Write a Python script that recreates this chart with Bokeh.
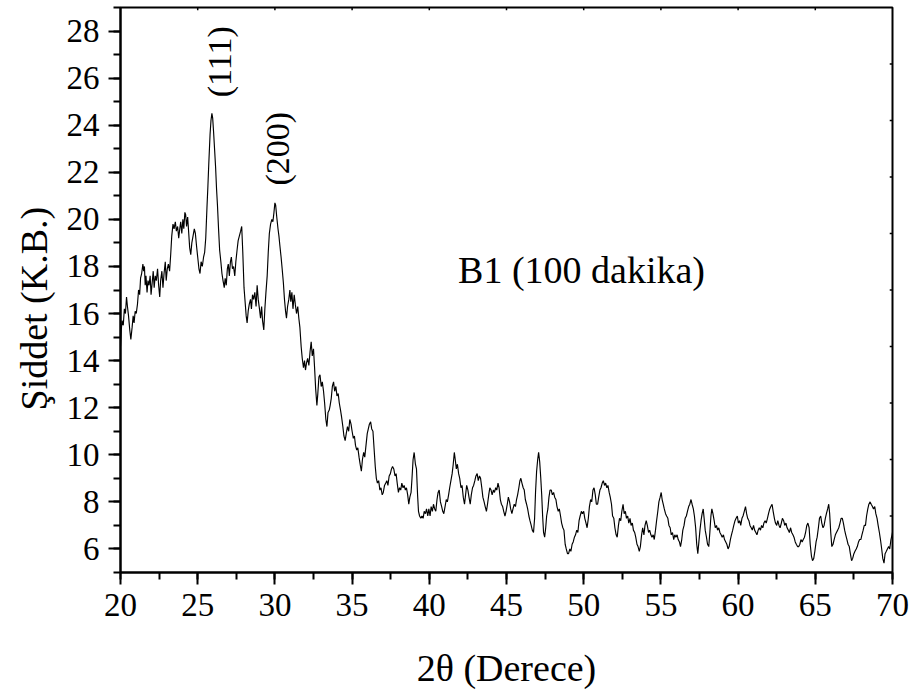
from math import pi

from bokeh.plotting import figure
from bokeh.models import (Label, Title, Range1d, SingleIntervalTicker,
                          ColumnDataSource)
from bokeh.embed import file_html
from bokeh.resources import INLINE

# XRD scan of sample B1 (100 min): 2-theta (degrees) vs intensity (a.u.)
two_theta = [
    20.00, 20.05, 20.10, 20.18, 20.25, 20.32, 20.39, 20.45, 20.52, 20.60,
    20.67, 20.75, 20.82, 20.88, 20.95, 21.02, 21.10, 21.17, 21.24, 21.30,
    21.37, 21.45, 21.50, 21.55, 21.60, 21.65, 21.72, 21.78, 21.85, 21.92,
    21.98, 22.05, 22.12, 22.18, 22.25, 22.32, 22.40, 22.47, 22.54, 22.60,
    22.68, 22.75, 22.82, 22.90, 22.96, 23.03, 23.10, 23.18, 23.25, 23.32,
    23.40, 23.47, 23.55, 23.62, 23.70, 23.77, 23.84, 23.90, 23.97, 24.04,
    24.10, 24.17, 24.22, 24.28, 24.35, 24.42, 24.48, 24.55, 24.62, 24.70,
    24.78, 24.85, 24.92, 25.00, 25.08, 25.15, 25.22, 25.30, 25.38, 25.45,
    25.52, 25.60, 25.66, 25.72, 25.80, 25.86, 25.92, 25.97, 26.03, 26.10,
    26.16, 26.22, 26.28, 26.35, 26.42, 26.50, 26.57, 26.64, 26.72, 26.78,
    26.85, 26.92, 26.98, 27.05, 27.12, 27.18, 27.25, 27.32, 27.40, 27.47,
    27.55, 27.62, 27.70, 27.78, 27.85, 27.92, 28.00, 28.07, 28.14, 28.20,
    28.27, 28.34, 28.42, 28.48, 28.55, 28.62, 28.70, 28.78, 28.85, 28.92,
    29.00, 29.07, 29.14, 29.20, 29.28, 29.35, 29.42, 29.50, 29.57, 29.64,
    29.72, 29.80, 29.87, 29.94, 30.00, 30.05, 30.12, 30.20, 30.26, 30.32,
    30.40, 30.47, 30.55, 30.62, 30.69, 30.75, 30.82, 30.90, 30.97, 31.03,
    31.10, 31.17, 31.25, 31.32, 31.40, 31.48, 31.55, 31.62, 31.70, 31.77,
    31.85, 31.92, 31.98, 32.05, 32.12, 32.20, 32.28, 32.35, 32.42, 32.50,
    32.57, 32.64, 32.72, 32.78, 32.85, 32.92, 33.00, 33.07, 33.15, 33.22,
    33.30, 33.37, 33.44, 33.52, 33.58, 33.65, 33.72, 33.80, 33.87, 33.95,
    34.02, 34.10, 34.17, 34.25, 34.32, 34.40, 34.47, 34.55, 34.62, 34.70,
    34.78, 34.85, 34.93, 35.00, 35.08, 35.15, 35.22, 35.30, 35.37, 35.45,
    35.52, 35.60, 35.67, 35.75, 35.82, 35.90, 35.98, 36.05, 36.12, 36.20,
    36.27, 36.35, 36.42, 36.50, 36.57, 36.64, 36.72, 36.80, 36.87, 36.95,
    37.02, 37.10, 37.18, 37.25, 37.32, 37.40, 37.48, 37.55, 37.62, 37.70,
    37.78, 37.85, 37.92, 38.00, 38.07, 38.15, 38.22, 38.30, 38.37, 38.45,
    38.52, 38.60, 38.67, 38.74, 38.82, 38.88, 38.95, 39.02, 39.10, 39.17,
    39.24, 39.30, 39.37, 39.45, 39.52, 39.60, 39.67, 39.75, 39.82, 39.90,
    39.97, 40.05, 40.12, 40.20, 40.27, 40.35, 40.42, 40.50, 40.57, 40.64,
    40.72, 40.80, 40.87, 40.94, 41.02, 41.10, 41.17, 41.25, 41.32, 41.40,
    41.48, 41.55, 41.62, 41.68, 41.75, 41.82, 41.90, 41.97, 42.05, 42.12,
    42.20, 42.28, 42.35, 42.42, 42.50, 42.57, 42.65, 42.72, 42.80, 42.87,
    42.95, 43.02, 43.10, 43.17, 43.25, 43.32, 43.40, 43.47, 43.55, 43.62,
    43.70, 43.77, 43.85, 43.92, 44.00, 44.07, 44.15, 44.22, 44.30, 44.37,
    44.45, 44.52, 44.60, 44.67, 44.75, 44.82, 44.90, 44.97, 45.05, 45.12,
    45.20, 45.27, 45.35, 45.42, 45.50, 45.58, 45.65, 45.72, 45.80, 45.87,
    45.93, 46.00, 46.08, 46.15, 46.22, 46.30, 46.37, 46.45, 46.52, 46.60,
    46.67, 46.75, 46.82, 46.88, 46.95, 47.02, 47.08, 47.15, 47.22, 47.28,
    47.34, 47.40, 47.47, 47.54, 47.60, 47.68, 47.75, 47.82, 47.90, 47.97,
    48.05, 48.12, 48.20, 48.27, 48.35, 48.42, 48.50, 48.57, 48.65, 48.72,
    48.80, 48.87, 48.95, 49.02, 49.10, 49.17, 49.25, 49.32, 49.40, 49.47,
    49.55, 49.62, 49.70, 49.77, 49.85, 49.92, 50.00, 50.07, 50.15, 50.22,
    50.30, 50.37, 50.45, 50.52, 50.60, 50.67, 50.75, 50.82, 50.90, 50.97,
    51.05, 51.12, 51.20, 51.27, 51.35, 51.42, 51.50, 51.57, 51.65, 51.72,
    51.80, 51.87, 51.95, 52.02, 52.10, 52.17, 52.25, 52.32, 52.40, 52.47,
    52.55, 52.62, 52.70, 52.77, 52.85, 52.92, 53.00, 53.07, 53.15, 53.22,
    53.30, 53.37, 53.45, 53.52, 53.60, 53.67, 53.75, 53.82, 53.90, 53.97,
    54.05, 54.12, 54.20, 54.27, 54.35, 54.42, 54.50, 54.57, 54.65, 54.72,
    54.80, 54.87, 54.95, 55.02, 55.08, 55.15, 55.22, 55.30, 55.37, 55.45,
    55.52, 55.60, 55.67, 55.75, 55.83, 55.90, 55.97, 56.05, 56.12, 56.20,
    56.27, 56.35, 56.42, 56.50, 56.57, 56.65, 56.72, 56.80, 56.87, 56.95,
    57.02, 57.10, 57.17, 57.25, 57.32, 57.39, 57.46, 57.53, 57.60, 57.67,
    57.74, 57.80, 57.87, 57.95, 58.02, 58.10, 58.17, 58.24, 58.30, 58.37,
    58.45, 58.52, 58.60, 58.67, 58.75, 58.82, 58.90, 58.97, 59.05, 59.12,
    59.20, 59.27, 59.35, 59.42, 59.50, 59.57, 59.65, 59.72, 59.80, 59.87,
    59.95, 60.02, 60.10, 60.17, 60.25, 60.32, 60.40, 60.48, 60.55, 60.62,
    60.70, 60.77, 60.85, 60.92, 61.00, 61.07, 61.15, 61.22, 61.30, 61.37,
    61.45, 61.52, 61.60, 61.67, 61.75, 61.82, 61.90, 61.97, 62.05, 62.12,
    62.20, 62.27, 62.35, 62.42, 62.50, 62.57, 62.65, 62.72, 62.80, 62.87,
    62.95, 63.02, 63.10, 63.17, 63.25, 63.32, 63.40, 63.47, 63.55, 63.62,
    63.70, 63.77, 63.85, 63.93, 64.00, 64.07, 64.15, 64.22, 64.30, 64.37,
    64.45, 64.52, 64.60, 64.67, 64.75, 64.82, 64.90, 64.97, 65.05, 65.12,
    65.20, 65.27, 65.35, 65.42, 65.50, 65.57, 65.65, 65.72, 65.80, 65.87,
    65.93, 66.00, 66.07, 66.15, 66.22, 66.30, 66.37, 66.45, 66.52, 66.60,
    66.67, 66.75, 66.82, 66.90, 66.97, 67.05, 67.12, 67.20, 67.27, 67.35,
    67.42, 67.50, 67.57, 67.65, 67.72, 67.80, 67.87, 67.95, 68.02, 68.10,
    68.17, 68.25, 68.32, 68.40, 68.47, 68.55, 68.62, 68.70, 68.77, 68.85,
    68.92, 69.00, 69.07, 69.15, 69.22, 69.30, 69.37, 69.45, 69.52, 69.60,
    69.67, 69.75, 69.82, 69.90, 69.97, 70.00,
]

intensity = [
    14.6, 15.3, 15.7, 15.5, 16.2, 16.0, 16.7, 16.3, 15.9, 15.3,
    14.9, 15.4, 15.9, 15.6, 16.1, 16.0, 16.4, 17.0, 16.8, 17.5,
    17.7, 18.1, 17.8, 18.0, 17.2, 17.6, 16.9, 17.4, 17.2, 17.6,
    16.8, 17.3, 17.8, 17.1, 17.6, 17.4, 17.9, 17.2, 16.7, 17.4,
    17.8, 17.1, 17.7, 18.2, 17.4, 17.9, 18.1, 17.8, 18.5, 19.3,
    19.8, 19.6, 19.9, 19.5, 19.7, 19.2, 19.6, 19.9, 19.4, 20.0,
    19.6, 20.3, 20.2, 19.7, 20.1, 19.4, 18.8, 18.5, 19.0, 19.3,
    19.6, 19.4, 18.9, 18.4, 17.9, 17.7, 18.2, 18.0, 18.4, 18.6,
    19.2, 20.5, 21.4, 22.4, 23.6, 24.2, 24.5, 24.3, 23.7, 22.9,
    22.2, 21.3, 20.6, 19.6, 18.7, 18.2, 17.7, 17.4, 17.1, 17.5,
    17.2, 17.9, 18.1, 17.6, 18.2, 18.4, 17.9, 18.0, 17.6, 18.2,
    18.7, 19.1, 19.3, 19.5, 19.7, 18.6, 17.1, 16.5, 15.9, 15.6,
    16.1, 16.4, 16.6, 16.2, 16.8, 16.6, 16.9, 16.3, 17.2, 16.6,
    16.2, 15.8, 16.3, 15.7, 15.3, 16.2, 16.9, 17.6, 18.6, 19.4,
    19.8, 20.0, 19.9, 20.3, 20.7, 20.6, 20.1, 19.6, 19.3, 18.9,
    18.4, 17.9, 17.3, 16.6, 16.1, 15.8, 16.3, 16.6, 17.0, 16.5,
    16.9, 16.2, 16.8, 16.4, 16.0, 16.3, 15.8, 15.4, 14.6, 14.1,
    13.7, 14.0, 13.6, 13.9, 14.1, 13.8, 14.4, 14.8, 14.2, 14.5,
    13.7, 12.8, 12.1, 12.6, 13.3, 13.4, 12.9, 13.1, 12.7, 12.2,
    11.5, 11.2, 11.8, 11.9, 12.1, 12.4, 12.9, 13.1, 12.7, 12.9,
    12.5, 12.6, 12.2, 11.9, 11.6, 11.2, 10.8, 10.6, 10.9, 11.2,
    11.0, 11.5, 11.3, 11.0, 10.7, 10.8, 10.4, 10.2, 10.3, 9.9,
    9.6, 9.3, 9.8, 10.1, 9.9, 10.4, 10.9, 11.1, 11.3, 11.4,
    11.1, 11.0, 10.3, 9.5, 9.0, 8.8, 8.9, 8.5, 8.6, 8.3,
    8.4, 8.7, 8.8, 8.9, 8.7, 9.1, 9.2, 9.4, 9.5, 9.4,
    9.1, 9.2, 8.8, 8.4, 8.6, 8.5, 8.8, 8.6, 8.7, 8.5,
    8.6, 8.3, 7.9, 8.2, 8.4, 9.0, 9.8, 10.1, 9.6, 9.4,
    8.3, 7.6, 7.4, 7.3, 7.4, 7.3, 7.6, 7.5, 7.7, 7.4,
    7.7, 7.4, 7.8, 7.6, 7.9, 7.7, 7.6, 8.1, 8.4, 8.5,
    8.0, 7.8, 7.6, 7.5, 7.8, 8.1, 8.0, 8.3, 8.6, 8.9,
    9.2, 9.6, 10.1, 9.8, 9.4, 9.6, 9.2, 9.0, 8.6, 8.7,
    8.2, 7.9, 8.3, 8.7, 8.5, 8.2, 7.9, 8.3, 8.6, 8.7,
    8.9, 9.1, 9.2, 8.9, 9.1, 9.0, 8.6, 8.2, 8.0, 7.8,
    7.6, 7.9, 8.3, 8.6, 8.5, 8.3, 8.5, 8.4, 8.6, 8.5,
    8.8, 8.6, 8.1, 7.9, 7.8, 7.6, 7.4, 7.6, 7.9, 8.2,
    8.0, 7.7, 7.5, 7.7, 7.9, 7.8, 8.1, 8.3, 8.6, 8.9,
    9.0, 8.8, 8.6, 8.5, 8.1, 7.9, 7.7, 7.4, 7.2, 7.0,
    6.8, 6.7, 7.3, 8.4, 9.3, 9.8, 10.1, 9.7, 9.0, 8.3,
    7.4, 6.7, 6.5, 6.9, 7.4, 7.7, 8.2, 8.5, 8.5, 8.3,
    8.4, 8.2, 8.1, 7.8, 7.6, 7.7, 7.4, 7.1, 6.9, 6.8,
    6.2, 6.0, 5.8, 5.8, 6.0, 5.9, 6.2, 6.3, 6.5, 6.6,
    6.8, 6.7, 7.2, 7.4, 7.6, 7.5, 7.6, 7.3, 7.1, 6.9,
    7.3, 7.8, 8.1, 8.0, 8.5, 8.6, 8.3, 7.9, 7.9, 8.2,
    8.5, 8.6, 8.8, 8.9, 8.7, 8.8, 8.6, 8.7, 8.4, 8.2,
    7.9, 7.4, 7.3, 6.9, 6.6, 6.5, 7.0, 7.3, 7.2, 7.6,
    7.9, 7.5, 7.6, 7.3, 7.4, 7.1, 7.3, 7.0, 7.1, 6.8,
    6.7, 6.5, 6.2, 6.1, 5.9, 6.1, 6.6, 6.9, 6.6, 7.0,
    7.2, 7.0, 6.7, 6.8, 6.6, 6.5, 6.6, 6.4, 6.8, 7.2,
    7.6, 8.0, 8.2, 8.4, 8.1, 7.9, 7.7, 7.5, 7.4, 7.3,
    7.0, 6.9, 6.6, 6.7, 6.4, 6.6, 6.5, 6.6, 6.4, 6.3,
    6.1, 6.4, 6.8, 7.0, 7.3, 7.4, 7.6, 7.8, 7.9, 8.1,
    7.9, 7.7, 7.4, 6.9, 6.2, 5.8, 6.3, 6.8, 7.2, 7.5,
    7.7, 7.3, 6.8, 6.5, 6.2, 6.1, 6.7, 7.4, 7.7, 7.5,
    7.2, 6.9, 7.0, 6.8, 6.9, 6.7, 6.6, 6.5, 6.6, 6.4,
    6.3, 6.2, 6.0, 6.1, 6.4, 6.6, 6.8, 7.0, 7.2, 7.3,
    7.4, 7.1, 7.2, 7.0, 7.3, 7.4, 7.6, 7.8, 7.5, 7.3,
    7.2, 7.0, 6.9, 6.8, 7.0, 6.8, 6.7, 6.6, 6.8, 6.9,
    6.8, 7.0, 6.9, 7.1, 7.2, 7.1, 7.3, 7.5, 7.7, 7.8,
    7.9, 7.6, 7.3, 7.1, 7.0, 7.2, 7.0, 6.9, 7.1, 7.3,
    7.2, 7.0, 7.1, 6.9, 6.8, 6.7, 6.9, 6.7, 6.6, 6.5,
    6.3, 6.2, 6.1, 6.1, 6.2, 6.4, 6.3, 6.4, 6.5, 6.7,
    7.0, 7.1, 6.9, 6.2, 5.7, 5.5, 5.6, 5.9, 6.3, 6.5,
    6.9, 7.3, 7.4, 7.1, 6.9, 7.0, 7.3, 7.5, 7.7, 7.9,
    7.5, 6.7, 6.1, 6.2, 6.4, 6.6, 6.7, 6.8, 6.9, 7.1,
    7.3, 7.3, 7.1, 6.8, 6.6, 6.4, 6.2, 6.1, 5.8, 5.5,
    5.6, 5.8, 5.9, 6.0, 6.1, 6.3, 6.4, 6.4, 6.6, 6.8,
    7.0, 7.0, 7.4, 7.7, 7.9, 8.0, 7.9, 7.8, 7.7, 7.8,
    7.5, 7.3, 7.0, 6.7, 6.4, 6.0, 5.6, 5.4, 5.8, 5.9,
    6.0, 6.1, 6.0, 6.4, 6.6, 6.7,
]

# Peak annotations (Miller indices) and the sample tag
peak_labels = ["(111)", "(200)"]
peak_label_x = [26.38, 30.2]
peak_label_y = [26.7, 23.0]
sample_tag = "B1 (100 dakika)"
x_title = "2θ (Derece)"
y_title = "Şiddet (K.B.)"

# positions of the small marks on the top and right frame edges
top_marks = [25, 30, 35, 40, 45, 50, 55, 60, 65]
right_marks = [7.4, 9.8, 12.2, 14.6, 17.0, 19.4, 21.8, 24.2, 26.6]

X_MIN, X_MAX = 20, 70
Y_MIN, Y_MAX = 5, 29
FONT = "Liberation Serif"

p = figure(width=915, height=695,
           x_range=Range1d(X_MIN, X_MAX), y_range=Range1d(Y_MIN, Y_MAX),
           output_backend="svg", toolbar_location=None,
           min_border_left=120, min_border_right=23,
           min_border_top=7, min_border_bottom=123)

p.background_fill_color = "white"
p.border_fill_color = "white"
p.xgrid.visible = False
p.ygrid.visible = False
p.outline_line_color = "black"
p.outline_line_width = 2

src = ColumnDataSource(data=dict(x=two_theta, y=intensity))
p.line("x", "y", source=src, line_color="black", line_width=1.15)

# short marks along the top and right edges of the frame
p.segment(x0=top_marks, x1=top_marks,
          y0=[Y_MAX] * len(top_marks), y1=[Y_MAX - 0.12] * len(top_marks),
          line_color="black", line_width=1.5)
p.segment(x0=[X_MAX] * len(right_marks), x1=[X_MAX - 0.18] * len(right_marks),
          y0=right_marks, y1=right_marks,
          line_color="black", line_width=1.5)

xa = p.xaxis[0]
xa.ticker = SingleIntervalTicker(interval=5, num_minor_ticks=2)
ya = p.yaxis[0]
ya.ticker = SingleIntervalTicker(interval=2, num_minor_ticks=2)

for ax in (xa, ya):
    ax.axis_line_width = 2
    ax.axis_line_color = "black"
    ax.major_tick_line_width = 2
    ax.minor_tick_line_width = 2
    ax.major_tick_out = 12
    ax.major_tick_in = 0
    ax.minor_tick_out = 7
    ax.minor_tick_in = 0
    ax.major_label_text_font = FONT
    ax.major_label_text_font_size = "33px"
    ax.major_label_text_color = "black"
    ax.major_label_standoff = 9

# x title as the bottom axis label
xa.axis_label = x_title
xa.axis_label_text_font = FONT
xa.axis_label_text_font_size = "38px"
xa.axis_label_text_font_style = "normal"
xa.axis_label_text_color = "black"
xa.axis_label_standoff = 28

# y title as a side title, so it can be shifted along the axis
p.add_layout(Title(text=y_title, align="left", offset=162, standoff=14,
                   vertical_align="top",
                   text_font=FONT, text_font_size="38px",
                   text_font_style="normal", text_color="black"), "left")

for txt, lx, ly in zip(peak_labels, peak_label_x, peak_label_y):
    p.add_layout(Label(x=lx, y=ly, text=txt, angle=pi / 2,
                       text_align="center", text_baseline="middle",
                       text_font=FONT, text_font_size="34px",
                       text_color="black"))

p.add_layout(Label(x=49.86, y=17.84, text=sample_tag,
                   text_align="center", text_baseline="middle",
                   text_font=FONT, text_font_size="38px",
                   text_color="black"))

open("out.html", "w").write(file_html(p, INLINE))
